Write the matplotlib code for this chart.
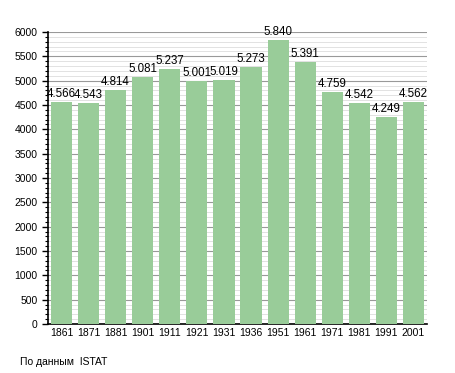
import matplotlib
matplotlib.use('Agg')
import matplotlib.pyplot as plt
from matplotlib.ticker import MultipleLocator

years = ['1861', '1871', '1881', '1901', '1911', '1921', '1931',
         '1936', '1951', '1961', '1971', '1981', '1991', '2001']
population = [4566, 4543, 4814, 5081, 5237, 5001, 5019,
              5273, 5840, 5391, 4759, 4542, 4249, 4562]
labels = ['4.566', '4.543', '4.814', '5.081', '5.237', '5.001', '5.019',
          '5.273', '5.840', '5.391', '4.759', '4.542', '4.249', '4.562']

plt.rcParams['font.family'] = ['Liberation Sans', 'DejaVu Sans']

fig = plt.figure(figsize=(4.55, 3.73), dpi=100)
ax = fig.add_axes([48 / 455, 49 / 373, 379 / 455, 292 / 373])

x = list(range(len(years)))
ax.bar(x, population, width=0.78, color='#99cc99', zorder=3)

for xi, v, lab in zip(x, population, labels):
    ax.text(xi, v + 40, lab, ha='center', va='bottom', fontsize=8.3, zorder=4)

ax.set_xlim(-0.5, len(years) - 0.5)
ax.set_ylim(0, 6000)
ax.set_xticks(x)
ax.set_xticklabels(years, fontsize=7.5)
ax.yaxis.set_major_locator(MultipleLocator(500))
ax.yaxis.set_minor_locator(MultipleLocator(100))
ax.tick_params(axis='y', labelsize=7.5, length=4, width=1)
ax.tick_params(axis='y', which='minor', length=2, width=0.8)
ax.tick_params(axis='x', length=0, pad=3)

ax.grid(axis='y', which='major', color='#999999', linewidth=0.8, zorder=0)
ax.grid(axis='y', which='minor', color='#dddddd', linewidth=0.6, zorder=0)

for s in ['top', 'right']:
    ax.spines[s].set_visible(False)
ax.spines['left'].set_linewidth(1.2)
ax.spines['bottom'].set_linewidth(1.2)

fig.text(20 / 455, 1 - 362 / 373, 'По данным  ISTAT', fontsize=7.5, va='center')

fig.savefig('out.png', dpi=100)
